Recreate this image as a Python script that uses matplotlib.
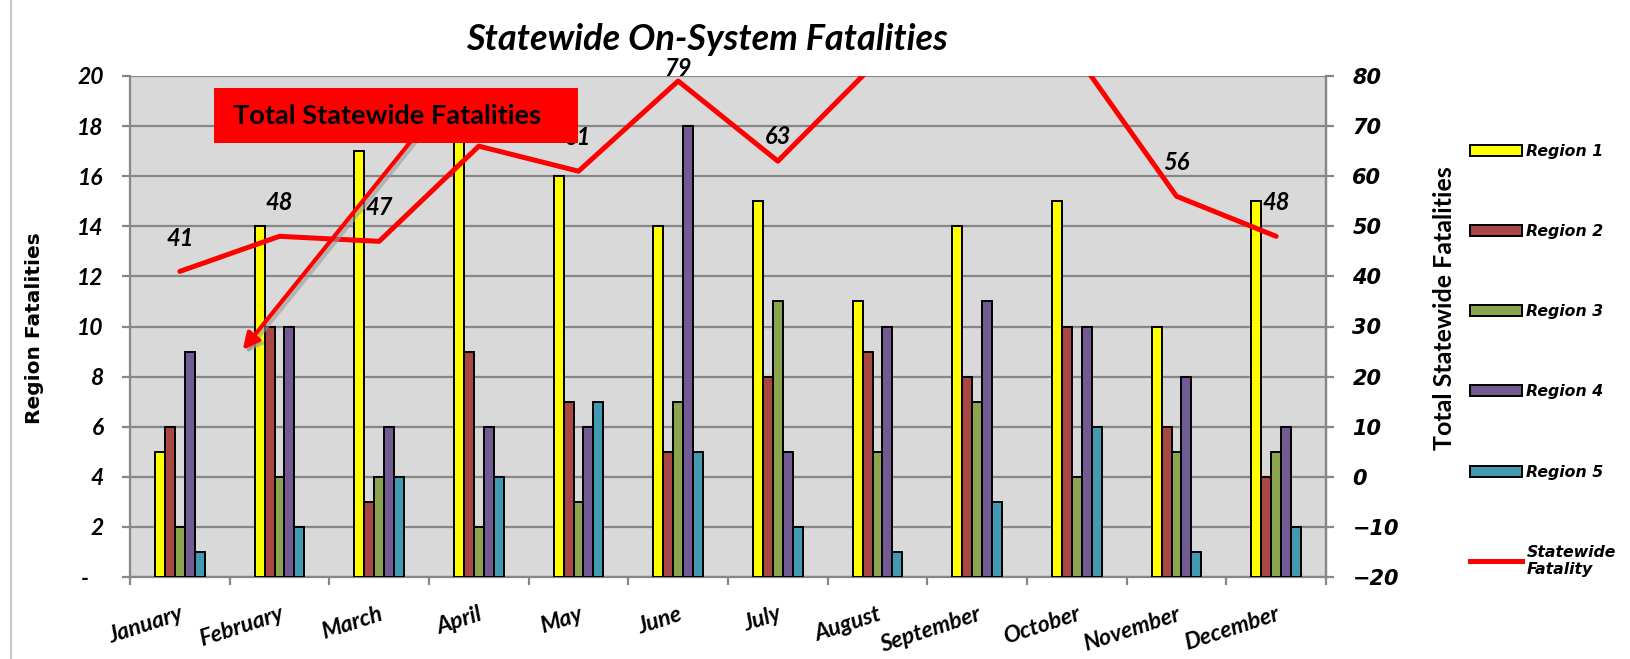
import numpy as np
import matplotlib
matplotlib.use("Agg")
import matplotlib.pyplot as plt
from matplotlib.patches import Rectangle, FancyArrowPatch, Patch
from matplotlib.lines import Line2D

months = ["January", "February", "March", "April", "May", "June", "July",
          "August", "September", "October", "November", "December"]
region1 = [5, 14, 17, 18, 16, 14, 15, 11, 14, 15, 10, 15]
region2 = [6, 10, 3, 9, 7, 5, 8, 9, 8, 10, 6, 4]
region3 = [2, 4, 4, 2, 3, 7, 11, 5, 7, 4, 5, 5]
region4 = [9, 10, 6, 6, 6, 18, 5, 10, 11, 10, 8, 6]
region5 = [1, 2, 4, 4, 7, 5, 2, 1, 3, 6, 1, 2]
statewide = [41, 48, 47, 66, 61, 79, 63, 83, 88, 84, 56, 48]

regions = [region1, region2, region3, region4, region5]
region_names = ["Region 1", "Region 2", "Region 3", "Region 4", "Region 5"]
colors = ["#FFFF00", "#A94744", "#8AA54E", "#725A92", "#4299B0"]

W, H = 1631, 659
fig = plt.figure(figsize=(W / 100, H / 100), dpi=100)
ax = fig.add_axes([130 / W, 1 - 577 / H, (1326 - 130) / W, (577 - 76) / H])
ax.set_facecolor("#D9D9D9")

x = np.arange(len(months))
bw = 0.1
for i, (vals, c) in enumerate(zip(regions, colors)):
    ax.bar(x + (i - 2) * bw, vals, width=bw, color=c, edgecolor="black",
           linewidth=1.4, zorder=3)

ax.set_xlim(-0.5, len(months) - 0.5)
ax.set_ylim(0, 20)
ax.set_yticks(range(0, 21, 2))
ax.set_yticklabels(["-   "] + [str(v) for v in range(2, 21, 2)])
ax.yaxis.grid(True, color="#878787", linewidth=1.6, zorder=1)
ax.set_axisbelow(True)

gray = "#878787"
ax.spines["top"].set_visible(False)
for s in ["left", "bottom", "right"]:
    ax.spines[s].set_color(gray)
    ax.spines[s].set_linewidth(1.6)

ax.set_xticks(x)
ax.set_xticklabels(months, rotation=18, ha="right", rotation_mode="anchor",
                   fontfamily="Lato", fontweight="bold", fontstyle="italic",
                   fontsize=16.5)
ax.set_xticks(np.arange(-0.5, len(months)), minor=True)
ax.tick_params(axis="x", which="major", length=0, pad=19)
ax.tick_params(axis="x", which="minor", length=6, color=gray, width=1.6)
ax.tick_params(axis="y", length=6, color=gray, width=1.6, pad=13)
for t in ax.get_yticklabels():
    t.set_fontfamily("Lato")
    t.set_fontweight("bold")
    t.set_fontstyle("italic")
    t.set_fontsize(16.5)

ax.set_ylabel("Region Fatalities", fontfamily="DejaVu Sans", fontweight="bold",
              fontsize=14.5)
ax.yaxis.set_label_coords(44 / W, 1 - 328 / H, transform=fig.transFigure)

ax2 = ax.twinx()
ax2.set_ylim(-20, 80)
ax2.set_yticks(range(-20, 81, 10))
ax2.tick_params(axis="y", length=6, color=gray, width=1.6, pad=13)
for t in ax2.get_yticklabels():
    t.set_fontfamily("DejaVu Sans")
    t.set_fontweight("bold")
    t.set_fontstyle("italic")
    t.set_fontsize(15)
for s in ["top", "left", "bottom"]:
    ax2.spines[s].set_visible(False)
ax2.spines["right"].set_color(gray)
ax2.spines["right"].set_linewidth(1.6)
ax2.plot(x, statewide, color="#FF0000", linewidth=3.6, solid_capstyle="round",
         solid_joinstyle="round", zorder=5)
ax2.set_ylabel("Total Statewide Fatalities", fontfamily="Lato",
               fontweight="bold", fontsize=18)
ax2.yaxis.set_label_coords(1433 / W, 1 - 308 / H, transform=fig.transFigure)

# April's label sits under the callout box in the original, so it is not drawn
special_offsets = {5: 9, 6: 18}
hidden = {3}
for i, v in enumerate(statewide):
    if i in hidden:
        continue
    ax2.annotate(str(v), (x[i], v), xytext=(0, special_offsets.get(i, 24)),
                 textcoords="offset points", ha="center", va="center",
                 fontfamily="Lato", fontweight="bold", fontstyle="italic",
                 fontsize=17, zorder=6)

fig.text(707 / W, 1 - 39 / H, "Statewide On-System Fatalities", ha="center",
         va="center", fontfamily="Lato", fontweight="bold", fontstyle="italic",
         fontsize=26)

# callout box with arrow (plus a soft shadow)
shadow = FancyArrowPatch((423 / W, 1 - 133 / H), (244 / W, 1 - 355 / H),
                         transform=fig.transFigure, arrowstyle="-|>",
                         mutation_scale=24, color="#9A9A9A", alpha=0.6,
                         linewidth=3, zorder=7)
fig.add_artist(shadow)
arrow = FancyArrowPatch((420 / W, 1 - 130 / H), (241 / W, 1 - 352 / H),
                        transform=fig.transFigure, arrowstyle="-|>",
                        mutation_scale=24, color="#FF0000", linewidth=3,
                        zorder=8)
fig.add_artist(arrow)
box = Rectangle((214 / W, 1 - 143 / H), (578 - 214) / W, (143 - 88) / H,
                transform=fig.transFigure, facecolor="#FF0000",
                edgecolor="none", zorder=9)
fig.add_artist(box)
fig.text(233 / W, 1 - 116 / H, "Total Statewide Fatalities", ha="left",
         va="center", fontfamily="Lato", fontweight="bold", fontsize=19.6,
         color="black", zorder=10)

# chart area border on the left
fig.add_artist(Line2D([11 / W, 11 / W], [0, 1], transform=fig.transFigure,
                      color="#C8C8C8", linewidth=1.5))

handles = [Patch(facecolor=c, edgecolor="black", linewidth=1.4) for c in colors]
handles.append(Line2D([], [], color="#FF0000", linewidth=3.6))
labels = region_names + ["Statewide\nFatality"]
fig.legend(handles, labels, loc="upper left",
           bbox_to_anchor=(1470 / W, 1 - 144 / H), frameon=False,
           prop={"family": "DejaVu Sans", "weight": "bold",
                 "style": "italic", "size": 11.3},
           handlelength=3.3, handleheight=0.7, handletextpad=0.3,
           labelspacing=4.15, borderpad=0, borderaxespad=0)

fig.savefig("out.png", dpi=100)
